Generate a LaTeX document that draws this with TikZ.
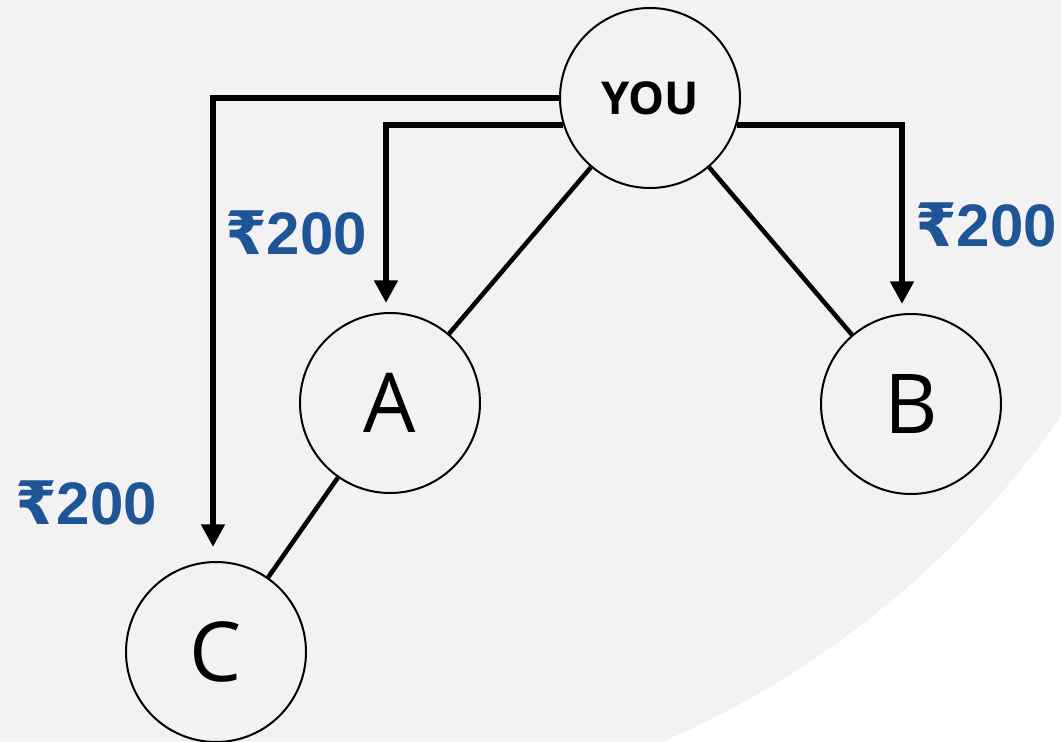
\documentclass[tikz,border=0pt]{standalone}
\usepackage{fontspec}
\setmainfont{Open Sans}
\newfontfamily\lblfont{Liberation Sans}
\newfontfamily\rupeefont{DejaVu Sans}
\usetikzlibrary{arrows.meta}
\definecolor{bggray}{HTML}{F2F2F2}
\definecolor{rupeeblue}{HTML}{1F5597}
\newcommand{\rupee}{{\rupeefont\bfseries ₹}}
\tikzset{
  person/.style={circle, draw=black, line width=1.5pt, minimum size=135pt, inner sep=0pt, fill=bggray},
  link/.style={line width=3.4pt, black},
  pay/.style={line width=4.6pt, black, -{Triangle[width=17pt,length=17pt]}},
  amount/.style={font=\lblfont\bfseries\fontsize{45}{50}\selectfont, text=rupeeblue, inner sep=0pt},
}
\begin{document}
\begin{tikzpicture}[x=0.75pt, y=-0.75pt]
\useasboundingbox (0,0) rectangle (1061,742);
\fill[white] (0,0) rectangle (1061,742);
\begin{scope}
\clip (0,0) rectangle (1061,742);
\fill[bggray] (288,-124) circle[radius=943];
\end{scope}
\node[person] (you) at (650,98) {\bfseries\fontsize{34}{40}\selectfont YOU};
\node[person] (a) at (390,403) {\fontsize{62}{70}\selectfont A};
\node[person] (b) at (911,404) {\fontsize{62}{70}\selectfont B};
\node[person] (c) at (216,652) {\fontsize{62}{70}\selectfont C};
\draw[link] (you) -- (a);
\draw[link] (you) -- (b);
\draw[link] (a) -- (c);
\draw[pay, shorten >=10.5pt] (you.180) -| ([xshift=-2.25pt]c.north);
\draw[pay, shorten >=6.75pt] (you.197) -| ([xshift=-3pt]a.north);
\draw[pay, shorten >=6.75pt] (you.-17) -| ([xshift=-6.75pt]b.north);
\node[amount] (l1) at (296,233) {\rupee200};
\node[amount] (l2) at (986,225) {\rupee200};
\node[amount] (l3) at (86,503) {\rupee200};
\end{tikzpicture}
\end{document}
